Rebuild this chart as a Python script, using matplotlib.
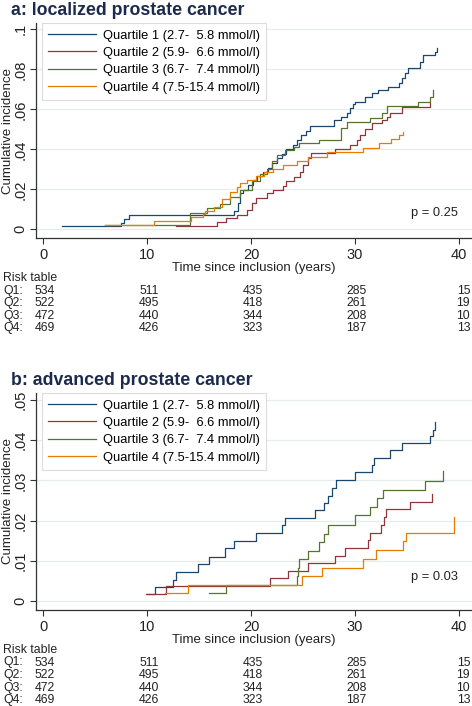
import matplotlib.pyplot as plt
from matplotlib import transforms

plt.rcParams['font.family'] = ['Liberation Sans', 'DejaVu Sans']

W, H = 472, 706

# Stata s2color style
colors = ['#1a476f', '#90353b', '#55752f', '#e37e00']
labels = ['Quartile 1 (2.7-  5.8 mmol/l)',
          'Quartile 2 (5.9-  6.6 mmol/l)',
          'Quartile 3 (6.7-  7.4 mmol/l)',
          'Quartile 4 (7.5-15.4 mmol/l)']

# panel a: localized prostate cancer (time in years, cumulative incidence)
a_q1_t = [1.75, 7.5, 7.8, 8.2, 18.4, 18.7, 18.9, 19.2, 19.7, 20.2, 20.6, 21.1, 21.6, 22.0,
          22.5, 23.0, 23.4, 24.0, 24.4, 24.8, 25.3, 25.7, 28.0, 28.7, 29.2, 29.5, 29.8, 30.0,
          31.0, 31.6, 32.2, 33.2, 34.2, 34.5, 34.8, 35.1, 36.3, 36.6, 37.7, 37.9]
a_q1_y = [0.0015, 0.0034, 0.0053, 0.0072, 0.0091, 0.0130, 0.0180, 0.0197, 0.0220, 0.0247,
          0.0266, 0.0288, 0.0307, 0.0330, 0.0355, 0.0375, 0.0400, 0.0420, 0.0446, 0.0470,
          0.0490, 0.0518, 0.0545, 0.0563, 0.0580, 0.0606, 0.0625, 0.0637, 0.0663, 0.0680,
          0.0697, 0.0713, 0.0730, 0.0755, 0.0780, 0.0805, 0.0838, 0.0870, 0.0888, 0.0905]
a_q2_t = [12.8, 16.7, 17.6, 18.6, 19.6, 20.1, 20.5, 21.5, 22.1, 23.1, 23.4, 24.1, 24.7, 25.0,
          25.5, 25.8, 28.1, 29.5, 30.2, 30.5, 31.0, 31.6, 32.6, 33.1, 33.4, 34.5, 37.2]
a_q2_y = [0.0015, 0.0035, 0.0057, 0.0072, 0.0097, 0.0130, 0.0155, 0.0180, 0.0197, 0.0217,
          0.0240, 0.0260, 0.0287, 0.0320, 0.0355, 0.0380, 0.0400, 0.0420, 0.0447, 0.0470,
          0.0500, 0.0530, 0.0547, 0.0563, 0.0580, 0.0613, 0.0630]
a_q3_t = [5.9, 14.1, 15.8, 17.0, 18.0, 18.9, 20.1, 20.9, 21.5, 22.0, 22.5, 23.3, 24.1, 24.6,
          26.5, 28.7, 29.2, 31.5, 32.6, 33.1, 36.1, 37.2, 37.5]
a_q3_y = [0.0020, 0.0083, 0.0105, 0.0125, 0.0160, 0.0197, 0.0240, 0.0275, 0.0300, 0.0340,
          0.0370, 0.0397, 0.0410, 0.0430, 0.0447, 0.0505, 0.0538, 0.0555, 0.0580, 0.0617,
          0.0638, 0.0660, 0.0697]
a_q4_t = [5.9, 10.6, 14.2, 15.4, 15.6, 16.4, 17.2, 18.0, 18.6, 18.9, 19.6, 20.5, 21.2, 22.1,
          23.1, 24.4, 25.5, 27.3, 30.8, 32.3, 33.5, 34.2, 34.6]
a_q4_y = [0.0020, 0.0043, 0.0063, 0.0075, 0.0090, 0.0113, 0.0150, 0.0185, 0.0210, 0.0230,
          0.0247, 0.0265, 0.0285, 0.0300, 0.0320, 0.0340, 0.0363, 0.0385, 0.0405, 0.0430,
          0.0450, 0.0470, 0.0488]

# panel b: advanced prostate cancer
b_q1_t = [10.0, 10.7, 12.5, 12.8, 14.9, 15.9, 17.5, 18.4, 20.5, 23.0, 23.3, 26.2, 27.0, 27.4,
          27.8, 28.2, 30.0, 31.6, 31.8, 33.4, 34.5, 37.2, 37.5, 37.7]
b_q1_y = [0.0018, 0.0035, 0.0053, 0.0073, 0.0092, 0.0110, 0.0131, 0.0150, 0.0170, 0.0188,
          0.0206, 0.0226, 0.0243, 0.0262, 0.0281, 0.0300, 0.0320, 0.0338, 0.0356, 0.0376,
          0.0394, 0.0410, 0.0425, 0.0446]
b_q2_t = [9.9, 11.8, 21.8, 23.6, 25.5, 28.1, 29.0, 31.3, 31.5, 32.5, 32.8, 33.0, 35.3, 37.4]
b_q2_y = [0.0018, 0.0037, 0.0056, 0.0075, 0.0094, 0.0113, 0.0132, 0.0151, 0.0170, 0.0190,
          0.0208, 0.0228, 0.0247, 0.0266]
b_q3_t = [15.9, 17.6, 24.4, 24.5, 24.6, 25.5, 26.5, 27.0, 27.4, 30.0, 31.5, 32.1, 32.7, 36.8, 38.5]
b_q3_y = [0.0021, 0.0041, 0.0062, 0.0083, 0.0104, 0.0125, 0.0146, 0.0167, 0.0188, 0.0213,
          0.0234, 0.0255, 0.0276, 0.0298, 0.0323]
b_q4_t = [11.7, 13.9, 24.9, 26.8, 30.8, 32.0, 34.6, 34.9, 39.5]
b_q4_y = [0.0020, 0.0041, 0.0062, 0.0083, 0.0105, 0.0126, 0.0148, 0.0170, 0.0209]

# numbers at risk (same in both panels)
risk_times = [0, 10, 20, 30, 40]
risk_names = ['Q1:', 'Q2:', 'Q3:', 'Q4:']
risk_q1 = [534, 511, 435, 285, 15]
risk_q2 = [522, 495, 418, 261, 19]
risk_q3 = [472, 440, 344, 208, 10]
risk_q4 = [469, 426, 323, 187, 13]

x_ticks = [0, 10, 20, 30, 40]
a_yticks = [0, 0.02, 0.04, 0.06, 0.08, 0.1]
b_yticks = [0, 0.01, 0.02, 0.03, 0.04, 0.05]


def fmt(v):
    if v == 0:
        return '0'
    return ('%g' % v).lstrip('0')


def panel(fig, top_px, bot_px, title, curves, yticks, ylim, pval, p_y):
    ax = fig.add_axes([36 / W, 1 - bot_px / H, 436 / W, (bot_px - top_px) / H])
    for (t, y), c, lab in zip(curves, colors, labels):
        ax.step(t, y, where='post', color=c, lw=0.9, label=lab)

    ax.set_xlim(-0.72, 41.28)
    ax.set_ylim(*ylim)
    ax.set_xticks(x_ticks)
    ax.set_yticks(yticks)
    ax.set_yticklabels([fmt(v) for v in yticks], rotation=90, va='center')
    ax.tick_params(axis='both', length=4, width=0.8, color='#333333', labelsize=10.5,
                   labelcolor='#222222')
    ax.tick_params(axis='y', pad=2)
    ax.tick_params(axis='x', pad=3)
    for s in ['top', 'right']:
        ax.spines[s].set_visible(False)
    for s in ['left', 'bottom']:
        ax.spines[s].set_color('#333333')
        ax.spines[s].set_linewidth(0.9)
    ax.yaxis.grid(True, color='#e4ecee', lw=0.9)
    ax.set_axisbelow(True)

    ax.set_ylabel('Cumulative incidence', fontsize=9.5, color='#222222')
    ax.yaxis.set_label_coords(-0.05, 0.5)
    ax.set_xlabel('Time since inclusion (years)', fontsize=9.5, labelpad=0, color='#222222')

    leg = ax.legend(loc='upper left', bbox_to_anchor=(0.013, 1.0), borderaxespad=0,
                    fontsize=9.3, handlelength=3.7, handletextpad=0.55, labelspacing=0.42,
                    borderpad=0.5, fancybox=False, framealpha=1)
    leg.get_frame().set_edgecolor('#dcdcdc')
    leg.get_frame().set_linewidth(0.8)

    ax.text(0.968, p_y, pval, transform=ax.transAxes, ha='right', va='center',
            fontsize=9.3, color='#222222')

    fig.text(11 / W, 1 - (top_px - 8) / H, title, fontsize=12.8, fontweight='bold',
             color='#1c2b4d', va='baseline')

    # risk table under the axis
    tr = transforms.blended_transform_factory(ax.transData, fig.transFigure)
    fig.text(3 / W, 1 - (bot_px + 40) / H, 'Risk table', fontsize=8.8, va='center',
             color='#222222')
    rows = [risk_q1, risk_q2, risk_q3, risk_q4]
    for i, (name, row) in enumerate(zip(risk_names, rows)):
        yy = 1 - (bot_px + 52.5 + 12.6 * i) / H
        fig.text(3 / W, yy, name, fontsize=8.8, va='center', color='#222222')
        for t, n in zip(risk_times, row):
            ax.text(t + 1.1, yy, str(n), transform=tr, ha='right', va='center',
                    fontsize=8.8, color='#222222', clip_on=False)
    return ax


fig = plt.figure(figsize=(W / 100, H / 100), dpi=100)

panel(fig, 23, 238, 'a: localized prostate cancer',
      [(a_q1_t, a_q1_y), (a_q2_t, a_q2_y), (a_q3_t, a_q3_y), (a_q4_t, a_q4_y)],
      a_yticks, (-0.00435, 0.1032), 'p = 0.25', 0.116)

panel(fig, 393, 610, 'b: advanced prostate cancer',
      [(b_q1_t, b_q1_y), (b_q2_t, b_q2_y), (b_q3_t, b_q3_y), (b_q4_t, b_q4_y)],
      b_yticks, (-0.00224, 0.05174), 'p = 0.03', 0.153)

fig.savefig('out.png', dpi=100)
